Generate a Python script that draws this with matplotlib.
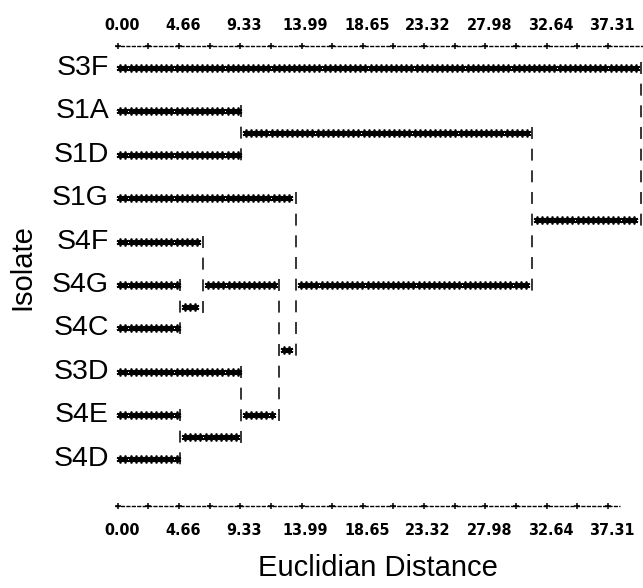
import numpy as np
import matplotlib
matplotlib.use("Agg")
import matplotlib.pyplot as plt

# ---------------- data ----------------
isolates = ["S3F", "S1A", "S1D", "S1G", "S4F", "S4G", "S4C", "S3D", "S4E", "S4D"]
# merges (cluster ids: leaves 0..9, merges 10..18 in order)
merge_a = [5, 8, 4, 7, 1, 12, 3, 14, 0]
merge_b = [6, 9, 10, 11, 2, 13, 15, 16, 17]
merge_dist = [4.74, 4.74, 6.49, 9.38, 9.38, 12.27, 13.57, 31.5, 39.86]
tick_values = [0.00, 4.66, 9.33, 13.99, 18.65, 23.32, 27.98, 32.64, 37.31]
tick_labels = ["0.00", "4.66", "9.33", "13.99", "18.65", "23.32", "27.98", "32.64", "37.31"]

# ---------------- layout ----------------
W, H = 643, 588
PX = 13.14      # pixels per distance unit
X0 = 117.7      # pixel of distance 0
ROW0, RP = 68.0, 21.7   # pixel of row 0, pixels per half row
CH = 4.6637 / 12          # character width in distance units

matplotlib.rcParams["lines.scale_dashes"] = False
fig = plt.figure(figsize=(W / 100, H / 100), dpi=100)
ax = fig.add_axes([0, 0, 1, 1])
ax.set_xlim(-X0 / PX, (W - X0) / PX)
ax.set_ylim((H - ROW0) / RP, -ROW0 / RP)
ax.axis("off")

n_leaf = len(isolates)
rows = {i: 2 * i for i in range(n_leaf)}
height = {i: 0.0 for i in range(n_leaf)}
parent = {}
for k, (a, b, d) in enumerate(zip(merge_a, merge_b, merge_dist)):
    nid = n_leaf + k
    rows[nid] = int(np.ceil((rows[a] + rows[b]) / 2))
    height[nid] = d
    parent[a] = nid
    parent[b] = nid

star_kw = dict(ls="none", marker=(6, 2, 0), ms=5.6, mew=1.25, color="black")
bar_kw = dict(color="black", lw=1.1, dashes=(8.6, 7.0), solid_capstyle="butt", dash_capstyle="butt")

# horizontal star lines
for nid, p in parent.items():
    start = 0.2 if nid < n_leaf else height[nid] + CH
    end = height[p] - 0.55 * CH
    xs = np.arange(start, end, CH)
    ax.plot(xs, np.full_like(xs, rows[nid], dtype=float), **star_kw)

# vertical broken bars at joins
ext = 6.0 / RP
for k, (a, b, d) in enumerate(zip(merge_a, merge_b, merge_dist)):
    r1, r2 = sorted((rows[a], rows[b]))
    ax.plot([d, d], [r1 - ext, r2 + ext], **bar_kw)

# isolate labels
for i, name in enumerate(isolates):
    ax.text((109 - X0) / PX, rows[i], name, ha="right", va="center",
            fontsize=20.5, family=["Liberation Sans", "DejaVu Sans"])

# text axes (top & bottom)
tick_font = dict(fontsize=11.5, fontweight="bold", fontstretch="condensed",
                 family=["DejaVu Sans"])
for axis_row, label_row, x_end, n_plus in [(-1.0, -1.98, (W + 2 - X0) / PX, 17),
                                           (20.2, 21.3, (620 - X0) / PX, 17)]:
    ax.plot([-0.2, x_end], [axis_row, axis_row], color="black", lw=1.0,
            dashes=(3.0, 0.9))
    px = np.arange(n_plus) * (tick_values[-1] / 16)
    px = px[px <= x_end]
    ax.plot(px, np.full_like(px, axis_row), ls="none", marker="+", ms=5,
            mew=1.1, color="black")
    for v, lab in zip(tick_values, tick_labels):
        ax.text(v + 0.3, label_row, lab, ha="center", va="center", **tick_font)

# axis titles
ax.text((378 - X0) / PX, (568 - ROW0) / RP, "Euclidian Distance", ha="center",
        va="center", fontsize=21, family=["Liberation Sans", "DejaVu Sans"])
ax.text((22 - X0) / PX, (267 - ROW0) / RP, "Isolate", ha="center", va="center",
        rotation=90, fontsize=21, family=["Liberation Sans", "DejaVu Sans"])

fig.savefig("out.png", dpi=100)
